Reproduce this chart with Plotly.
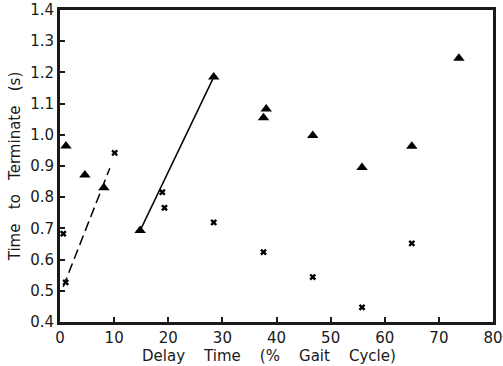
import plotly.graph_objects as go

tri_x = [1.1, 4.6, 8.1, 14.8, 28.4, 38.1, 37.6, 46.7, 55.8, 65.0, 73.7]
tri_y = [0.964, 0.871, 0.830, 0.693, 1.185, 1.083, 1.055, 0.998, 0.895, 0.963, 1.245]

x_x = [0.6, 1.05, 10.1, 18.9, 19.3, 28.4, 37.6, 46.7, 55.8, 65.0]
x_y = [0.683, 0.527, 0.942, 0.816, 0.766, 0.719, 0.624, 0.544, 0.447, 0.652]

dash_x = [0.6, 9.2]
dash_y = [0.513, 0.893]

solid_x = [14.8, 28.4]
solid_y = [0.693, 1.185]

xticks = [0, 10, 20, 30, 40, 50, 60, 70, 80]
yticks = [0.4, 0.5, 0.6, 0.7, 0.8, 0.9, 1.0, 1.1, 1.2, 1.3, 1.4]

sp = "\u00a0\u00a0\u00a0"
sp4 = "\u00a0\u00a0\u00a0\u00a0"
font = dict(family="DejaVu Sans, Verdana, sans-serif", size=15, color="#1a1a1a")

fig = go.Figure()
fig.add_trace(go.Scatter(x=dash_x, y=dash_y, mode="lines",
                         line=dict(color="black", width=1.5, dash="10px,5px")))
fig.add_trace(go.Scatter(x=solid_x, y=solid_y, mode="lines",
                         line=dict(color="black", width=1.5)))
fig.add_trace(go.Scatter(x=tri_x, y=tri_y, mode="markers",
                         marker=dict(symbol="triangle-up", size=10, color="black")))
fig.add_trace(go.Scatter(x=x_x, y=x_y, mode="markers",
                         marker=dict(symbol="x", size=6, color="black",
                                     line=dict(width=0))))

fig.update_layout(
    width=503, height=366,
    margin=dict(l=60, r=10, t=10, b=44, autoexpand=False),
    paper_bgcolor="white", plot_bgcolor="white",
    showlegend=False,
    font=font,
    xaxis=dict(range=[0, 80], tickvals=xticks, showgrid=False, zeroline=False,
               showline=True, linecolor="#1a1a1a", linewidth=3, mirror=True,
               ticks="inside", ticklen=5, tickwidth=1.5, tickcolor="#1a1a1a",
               ticklabelstandoff=0, automargin=False),
    yaxis=dict(range=[0.4, 1.4], tickvals=yticks, tickformat=".1f", showgrid=False,
               zeroline=False, showline=True, linecolor="#1a1a1a", linewidth=3,
               mirror=True, ticks="inside", ticklen=5, tickwidth=1.5,
               tickcolor="#1a1a1a", automargin=False,
               title=dict(text="Time" + sp + "to" + sp + "Terminate" + sp + "(s)",
                          standoff=6, font=font)),
    annotations=[dict(text="Delay" + sp4 + "Time" + sp4 + "(%" + sp4 + "Gait" + sp4 + "Cycle)",
                      xref="paper", yref="paper", x=0.482, y=-0.11,
                      xanchor="center", yanchor="middle", showarrow=False,
                      font=font)],
)

fig.write_html("out.html")
